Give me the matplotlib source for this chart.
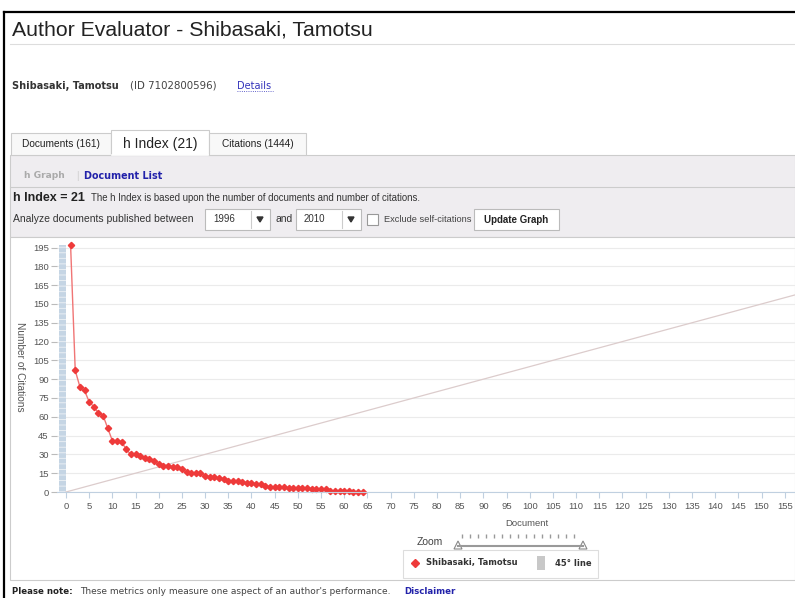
import numpy as np
import matplotlib.pyplot as plt
from matplotlib.patches import Rectangle, Polygon

# citations per document, sorted
citations = [197, 97, 84, 81, 72, 68, 63, 61, 51, 41, 41, 40, 34, 30, 30, 29,
             27, 26, 25, 22, 21, 21, 20, 20, 18, 16, 15, 15, 15, 13, 12, 12,
             11, 10, 9, 9, 9, 8, 7, 7, 6, 6, 5, 4, 4, 4, 4, 3, 3, 3, 3, 3,
             2, 2, 2, 2, 1, 1, 1, 1, 1, 0, 0, 0]
documents = list(range(1, len(citations) + 1))
line_45 = [0, 160]
y_ticks = list(range(0, 196, 15))
x_ticks = list(range(0, 156, 5))
tab_labels = ["Documents (161)", "h Index (21)", "Citations (1444)"]

plt.rcParams['font.family'] = ['Liberation Sans', 'DejaVu Sans']

W, H = 795, 598
fig = plt.figure(figsize=(W / 100, H / 100), dpi=100)
bg = fig.add_axes([0, 0, 1, 1])
bg.set_xlim(0, W)
bg.set_ylim(H, 0)
bg.axis('off')

# page frame
bg.plot([4, 4], [12, H], color='black', lw=1.6)
bg.plot([4, W], [12, 12], color='black', lw=1.6)
bg.text(12, 30, "Author Evaluator - Shibasaki, Tamotsu", fontsize=15.3,
        color='#222222', va='center')
bg.plot([10, W], [44, 44], color='#dddddd', lw=0.8)

verd = ['DejaVu Sans']
bg.text(12, 86, "Shibasaki, Tamotsu", family=verd, fontweight='bold',
        fontsize=7, color='#333333', va='center')
bg.text(130, 86, "(ID 7102800596)", family=verd, fontsize=7.4,
        color='#444444', va='center')
bg.text(237, 86, "Details", family=verd, fontsize=7, color='#3333bb', va='center')
bg.plot([237, 273], [91, 91], color='#3333bb', lw=0.6, ls=':')

# tabs + control panel
bg.add_patch(Rectangle((10, 155), W - 10, 82, facecolor='#efedf0',
                       edgecolor='#cccccc', lw=0.8))
tab_x = [11, 111, 209, 306]
for i, lab in enumerate(tab_labels):
    active = i == 1
    top = 130 if active else 133
    bg.add_patch(Rectangle((tab_x[i], top), tab_x[i + 1] - tab_x[i], 155 - top,
                           facecolor='white' if active else '#f8f8f8',
                           edgecolor='#cccccc', lw=0.8))
    bg.text((tab_x[i] + tab_x[i + 1]) / 2, 144, lab,
            fontsize=10 if active else 7.3, color='#222222',
            ha='center', va='center')
bg.plot([112, 208], [155, 155], color='white', lw=1.2)

bg.text(24, 176, "h Graph", family=verd, fontweight='bold', fontsize=6.6,
        color='#aaaaaa', va='center')
bg.text(76, 176, "|", fontsize=7, color='#cccccc', va='center')
bg.text(84, 176, "Document List", family=verd, fontweight='bold', fontsize=6.9,
        color='#2222aa', va='center')
bg.plot([10, W], [187, 187], color='#cccccc', lw=0.8)
bg.text(13, 198, "h Index = 21", fontweight='bold', fontsize=9, color='#222222',
        va='center')
bg.text(91, 198, "The h Index is based upon the number of documents and number of citations.",
        fontsize=6.9, color='#333333', va='center')
bg.text(13, 219, "Analyze documents published between", fontsize=7.5,
        color='#333333', va='center')
for x0, yr in [(205, "1996"), (296, "2010")]:
    bg.add_patch(Rectangle((x0, 209), 65, 21, facecolor='white',
                           edgecolor='#bbbbbb', lw=0.8))
    bg.text(x0 + 8, 219.5, yr, fontsize=7, color='#333333', va='center')
    bg.plot([x0 + 46, x0 + 46], [211, 228], color='#cccccc', lw=0.8)
    bg.add_patch(Polygon([[x0 + 52, 217], [x0 + 58, 217], [x0 + 55, 222]],
                         closed=True, color='#333333'))
bg.text(276, 219, "and", fontsize=7.5, color='#333333', va='center')
bg.add_patch(Rectangle((367, 214), 11, 11, facecolor='white',
                       edgecolor='#999999', lw=0.8))
bg.text(384, 219, "Exclude self-citations", fontsize=6.7, color='#444444',
        va='center')
bg.add_patch(Rectangle((474, 209), 85, 21, facecolor='white',
                       edgecolor='#bbbbbb', lw=0.8))
bg.text(516, 220, "Update Graph", fontweight='bold', fontsize=7,
        color='#222222', ha='center', va='center')

# chart area frame
bg.add_patch(Rectangle((10, 237), W - 10, 343, facecolor='white',
                       edgecolor='#cccccc', lw=0.8))

# chart
ax = fig.add_axes([57 / W, 1 - 492 / H, (W - 57) / W, (492 - 240) / H])
ax.set_xlim(-1.93, 157.2)
ax.set_ylim(0, 201)
ax.patch.set_alpha(0)
ax.set_yticks(y_ticks)
ax.set_xticks(x_ticks)
ax.grid(axis='y', color='#ebebeb', lw=0.8)
ax.set_axisbelow(True)
for s in ['top', 'right', 'left']:
    ax.spines[s].set_visible(False)
ax.spines['bottom'].set_color('#c0d0e0')
ax.tick_params(axis='x', length=4, color='#c0d0e0', labelsize=6.8,
               labelcolor='#555555', pad=3)
ax.tick_params(axis='y', length=4, color='#bbbbbb', labelsize=6.8,
               labelcolor='#555555', pad=2)

plt.rcParams['hatch.linewidth'] = 0.6
ax.bar(-0.8, citations[0], width=1.6, color='#c5d5e4', hatch='---',
       edgecolor='#eef2f6', lw=0)
ax.plot(line_45, line_45, color='#dccccc', lw=0.9)
ax.plot(documents, citations, color='#f07575', lw=1, marker='D', ms=3.2,
        mfc='#ee3a3a', mec='#ee3a3a', clip_on=False)

bg.text(20, 367, "Number of Citations", fontsize=7.3, color='#555555',
        rotation=-90, ha='center', va='center')

# below chart: axis title, zoom slider, legend
bg.text(527, 524, "Document", fontsize=6.8, color='#555555', ha='center',
        va='center')
bg.text(430, 542, "Zoom", fontsize=7.5, color='#444444', ha='center', va='center')
bg.plot([458, 583], [546, 546], color='#999999', lw=1.5)
dots = np.arange(462, 582, 8)
bg.plot(dots, [536] * len(dots), ls='none', marker='|', ms=2.5, color='#999999')
for cx in [458, 583]:
    bg.add_patch(Polygon([[cx - 4, 549], [cx + 4, 549], [cx, 541]], closed=True,
                         facecolor='white', edgecolor='#888888', lw=0.8))

bg.add_patch(Rectangle((403, 550), 195, 28, facecolor='white',
                       edgecolor='#dddddd', lw=0.8))
bg.plot([415], [563], marker='D', ms=4, color='#ee3a3a')
bg.text(426, 563, "Shibasaki, Tamotsu", family=verd, fontweight='bold',
        fontsize=6, color='#333333', va='center')
bg.add_patch(Rectangle((537, 556), 8, 14, facecolor='#c8c8c8', lw=0))
bg.text(555, 563, "45° line", family=verd, fontweight='bold', fontsize=6,
        color='#333333', va='center')

bg.text(12, 592, "Please note:", family=verd, fontweight='bold', fontsize=6.2,
        color='#222222', va='center')
bg.text(80, 592, "These metrics only measure one aspect of an author's performance.",
        family=verd, fontsize=6.5, color='#444444', va='center')
bg.text(404, 592, "Disclaimer", family=verd, fontweight='bold', fontsize=6.2,
        color='#2222aa', va='center')

fig.savefig("out.png", dpi=100)
